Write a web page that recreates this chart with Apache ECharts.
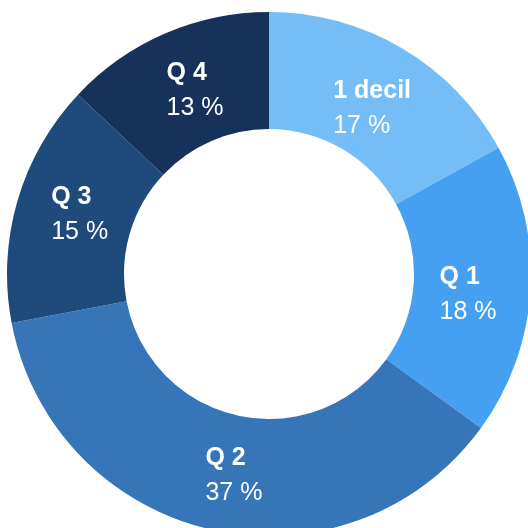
<!DOCTYPE html>
<html>
<head>
<meta charset="utf-8">
<script src="https://cdn.jsdelivr.net/npm/echarts@6/dist/echarts.min.js"></script>
<style>
  html, body { margin: 0; padding: 0; background: #fff; }
  #chart { width: 528px; height: 528px; }
</style>
</head>
<body>
<div id="chart"></div>
<script>
// slices, clockwise from 12 o'clock
const categories = ['1 decil', 'Q 1', 'Q 2', 'Q 3', 'Q 4'];
const shares = [17, 18, 37, 15, 13];
const colors = ['#75bdf6', '#45a0f1', '#3675b7', '#1e4a7c', '#16325b'];
// small label shifts off the default inside position (px)
const labelNudge = [[-2, 12], [-7, 8], [10, 0], [9, -2], [8, 6]];

const chart = echarts.init(document.getElementById('chart'));

const option = {
  animation: false,
  series: [
    {
      type: 'pie',
      center: [269, 274],
      radius: [145, 262],
      startAngle: 90,
      clockwise: true,
      silent: true,
      data: categories.map((name, i) => ({
        name,
        value: shares[i],
        itemStyle: { color: colors[i] },
      })),
      label: {
        show: true,
        position: 'inside',
        fontFamily: '"Liberation Sans", Arial, sans-serif',
        formatter: '{n|{b}}\n{v|{c} %}',
        rich: {
          n: {
            color: '#fff',
            fontSize: 25,
            fontWeight: 'bold',
            align: 'left',
            lineHeight: 35,
            fontFamily: '"Liberation Sans", Arial, sans-serif',
          },
          v: {
            color: '#fff',
            fontSize: 25,
            align: 'left',
            lineHeight: 35,
            fontFamily: '"Liberation Sans", Arial, sans-serif',
          },
        },
      },
      labelLayout(params) {
        const n = labelNudge[params.dataIndex];
        return { dx: n[0], dy: n[1] };
      },
      labelLine: { show: false },
    },
  ],
};

chart.setOption(option);
</script>
</body>
</html>
